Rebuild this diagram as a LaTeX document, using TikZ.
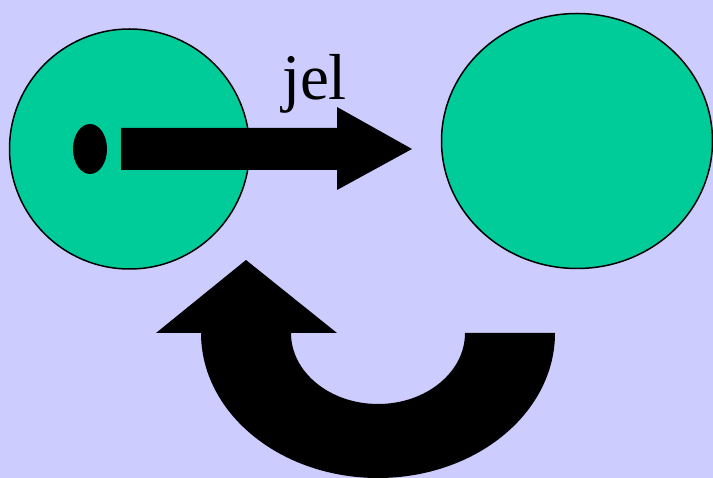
\documentclass[tikz,border=0pt]{standalone}
\usepackage{fontspec}
\setmainfont{Liberation Serif}
\usetikzlibrary{shapes.geometric}
\definecolor{lavender}{HTML}{CCCCFF}
\definecolor{cellgreen}{HTML}{00CC99}

\begin{document}
\begin{tikzpicture}[x=1pt, y=-1pt,
	% --- Styles ---
	cell/.style={
		ellipse, draw=black, line width=1.5pt, fill=cellgreen, inner sep=0pt
	},
	blob/.style={
		ellipse, fill=black, inner sep=0pt, minimum width=34pt, minimum height=50pt
	},
	bigarrow/.style={
		fill=black
	},
	labeltext/.style={
		font=\fontsize{65}{72}\selectfont, inner sep=0pt, anchor=base
	}
	]
	
	% --- Background ---
	\fill [lavender] (0,0) rectangle (713,478);
	\useasboundingbox (0,0) rectangle (713,478);
	
	% --- Cells ---
	\node [cell, minimum width=240pt, minimum height=240pt] (left_cell) at (129.5,149) {};
	\node [cell, minimum width=271pt, minimum height=255pt] (right_cell) at (577,141) {};
	
	% Black spot inside the left cell
	\node [blob] (spot) at (90,149) {};
	
	% --- Straight arrow ---
	\fill [bigarrow] (121,128) -- (337,128) -- (337,107) -- (412,149)
		-- (337,190) -- (337,170) -- (121,170) -- cycle;
	
	% Label
	\node [labeltext] (jel_label) at (314.5,100) {jel};
	
	% --- Returning arrow (U-turn) ---
	\fill [bigarrow] (291,333)
		arc [start angle=180, end angle=0, x radius=87, y radius=71]
		-- (555,333)
		arc [start angle=0, end angle=180, x radius=177, y radius=145]
		-- (156,333) -- (246,260) -- (337,333) -- cycle;
	
\end{tikzpicture}
\end{document}
